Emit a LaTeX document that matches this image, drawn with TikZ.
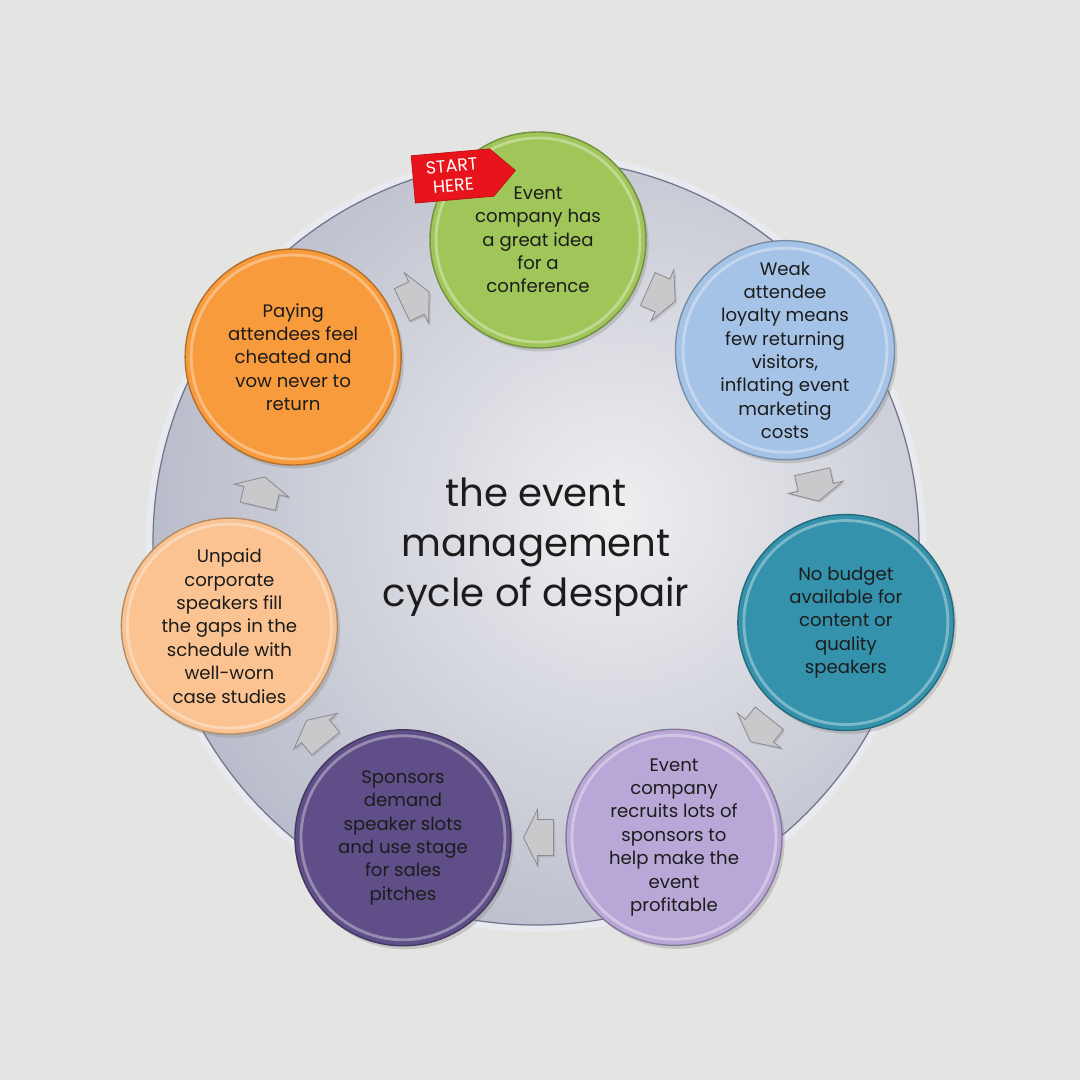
\documentclass[tikz,border=0pt]{standalone}
\usepackage{fontspec}
\setmainfont{Poppins}
\usetikzlibrary{calc, positioning, shapes.symbols, shadows}

\definecolor{paper}{HTML}{E4E4E2}
\definecolor{inkDark}{HTML}{1C1C1C}
\definecolor{rimLight}{HTML}{E9EAF0}
\definecolor{rimDark}{HTML}{70748A}
\definecolor{faceLight}{HTML}{EFEFF1}
\definecolor{faceDark}{HTML}{989DB3}
\definecolor{ideaGreen}{HTML}{A0C65A}
\definecolor{loyaltyBlue}{HTML}{A5C3E6}
\definecolor{budgetTeal}{HTML}{3592AC}
\definecolor{sponsorLilac}{HTML}{B9A8D7}
\definecolor{pitchPurple}{HTML}{5F4E87}
\definecolor{speakerPeach}{HTML}{FAC391}
\definecolor{cheatOrange}{HTML}{F89B3C}
\definecolor{tagRed}{HTML}{E8141C}
\definecolor{flowFill}{HTML}{C9C9CC}
\definecolor{flowEdge}{HTML}{8D8D93}

% block arrow between two stages, rotated along the chord
\newcommand\flowarrow[2]{%
  \path let \p1=($(#2)-(#1)$), \n1={atan2(\y1,\x1)} in
    ($(#1)!0.5!(#2)$) pic[rotate=\n1]{flow};}

\begin{document}
\begin{tikzpicture}[
    stage/.style={
        circle, fill=#1, draw=#1!72!black, line width=0.8pt,
        minimum size=4.32cm, inner sep=0pt, align=center,
        font=\fontsize{10.3}{13.3}\selectfont, text=inkDark,
        drop shadow={opacity=0.3, shadow xshift=1.5pt, shadow yshift=-2pt},
        path picture={\draw[white, opacity=0.35, line width=1.6pt]
            (path picture bounding box.center) circle (2.04cm);}
    },
    flow/.pic={
        \filldraw[fill=flowFill, draw=flowEdge, line width=0.5pt,
            drop shadow={opacity=0.25, shadow xshift=1pt, shadow yshift=-1pt}]
            (-0.3,0.36) -- (0.02,0.36) -- (0.02,0.56) -- (0.3,0)
            -- (0.02,-0.56) -- (0.02,-0.36) -- (-0.3,-0.36) -- cycle;
    },
    tag/.style={
        signal, signal to=east, fill=tagRed, draw=tagRed!80!black,
        text=white, align=center, inner sep=1.5pt,
        minimum width=2.05cm, minimum height=0.95cm,
        font=\fontsize{10}{11.2}\selectfont
    }
]
    \useasboundingbox (0,0) rectangle (21.6,21.6);
    \fill[paper] (0,0) rectangle (21.6,21.6);

    \coordinate (disc) at (10.72,10.76);
    \coordinate (hub) at (10.76,10.48);

    % silver disc
    \fill[rimLight] (disc) circle (7.80cm);
    \begin{scope}
        \clip (disc) circle (7.66cm);
        \shade[inner color=faceLight, outer color=faceDark]
            ($(disc)+(1.6,0.6)$) circle (15cm);
    \end{scope}
    \draw[rimDark, line width=0.7pt] (disc) circle (7.66cm);

    \node[font=\fontsize{22}{28.5}\selectfont, text=inkDark, align=center]
        (title) at ($(disc)+(0,-0.1)$) {the event\\management\\cycle of despair};

    % stages of the cycle
    \node[stage=ideaGreen] (idea) at ($(hub)+(90:6.32)$)
        {Event\\company has\\a great idea\\for a\\conference};
    \node[stage=loyaltyBlue] (loyalty) at ($(hub)+(39.8:6.43)$)
        {Weak\\attendee\\loyalty means\\few returning\\visitors,\\inflating event\\marketing\\costs};
    \node[stage=budgetTeal] (budget) at ($(hub)+(-12.2:6.3)$)
        {No budget\\available for\\content or\\quality\\speakers};
    \node[stage=sponsorLilac] (sponsors) at ($(hub)+(-64.2:6.25)$)
        {Event\\company\\recruits lots of\\sponsors to\\help make the\\event\\profitable};
    \node[stage=pitchPurple] (pitches) at ($(hub)+(-115.6:6.25)$)
        {Sponsors\\demand\\speaker slots\\and use stage\\for sales\\pitches};
    \node[stage=speakerPeach] (speakers) at ($(hub)+(-167.2:6.33)$)
        {Unpaid\\corporate\\speakers fill\\the gaps in the\\schedule with\\well-worn\\case studies};
    \node[stage=cheatOrange] (cheated) at ($(hub)+(140.9:6.31)$)
        {Paying\\attendees feel\\cheated and\\vow never to\\return};

    \flowarrow{idea}{loyalty}
    \flowarrow{loyalty}{budget}
    \flowarrow{budget}{sponsors}
    \flowarrow{sponsors}{pitches}
    \flowarrow{pitches}{speakers}
    \flowarrow{speakers}{cheated}
    \flowarrow{cheated}{idea}

    \node[tag, rotate=5] (start) at (9.05,18.08) {START\\HERE};
\end{tikzpicture}
\end{document}
